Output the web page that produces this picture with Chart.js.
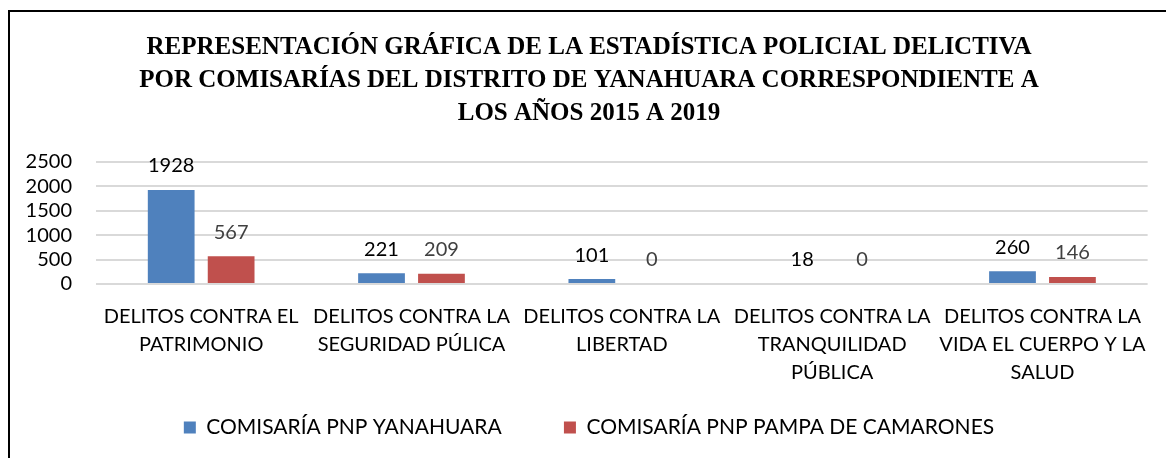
<!DOCTYPE html>
<html>
<head>
<meta charset="utf-8">
<script src="https://cdn.jsdelivr.net/npm/chart.js@4.4.1/dist/chart.umd.min.js"></script>
<style>
  html, body { margin: 0; padding: 0; background: #fff; }
  #frame { position: absolute; left: 8px; top: 10px; width: 1200px; height: 500px; border: 2px solid #000; box-sizing: border-box; }
  #wrap { position: absolute; left: 0; top: 0; width: 1166px; height: 458px; }
</style>
</head>
<body>
<div id="frame"></div>
<div id="wrap"><canvas id="chart"></canvas></div>
<script>
// categories (multi-line axis labels)
const categories = [
    ['DELITOS CONTRA EL', 'PATRIMONIO'],
    ['DELITOS CONTRA LA', 'SEGURIDAD PÚLICA'],
    ['DELITOS CONTRA LA', 'LIBERTAD'],
    ['DELITOS CONTRA LA', 'TRANQUILIDAD', 'PÚBLICA'],
    ['DELITOS CONTRA LA', 'VIDA EL CUERPO Y LA', 'SALUD']
]
const yanahuara = [1928, 221, 101, 18, 260]
const pampaCamarones = [567, 209, 0, 0, 146]
const seriesNames = ['COMISARÍA PNP YANAHUARA', 'COMISARÍA PNP PAMPA DE CAMARONES']
const yMax = 2500
const yStep = 500
const titleLines = [
    'REPRESENTACIÓN GRÁFICA DE LA ESTADÍSTICA POLICIAL DELICTIVA',
    'POR COMISARÍAS DEL DISTRITO DE YANAHUARA CORRESPONDIENTE A',
    'LOS AÑOS 2015 A 2019'
]

const SANS = 'Lato, "Liberation Sans", sans-serif'

// draws the value above every bar
const valueLabels = {
    id: 'valueLabels',
    afterDatasetsDraw(chart) {
        const ctx = chart.ctx
        ctx.save()
        ctx.font = '20px ' + SANS
        ctx.textAlign = 'center'
        ctx.textBaseline = 'middle'
        chart.data.datasets.forEach((ds, i) => {
            ctx.fillStyle = i === 0 ? '#000000' : '#404040'
            chart.getDatasetMeta(i).data.forEach((bar, j) => {
                ctx.fillText(String(ds.data[j]), bar.x, bar.y - 24)
            })
        })
        ctx.restore()
    }
}

new Chart(document.getElementById('chart'), {
    type: 'bar',
    data: {
        labels: categories,
        datasets: [{
            label: seriesNames[0],
            data: yanahuara,
            backgroundColor: '#4F81BD'
        }, {
            label: seriesNames[1],
            data: pampaCamarones,
            backgroundColor: '#C0504D'
        }]
    },
    options: {
        responsive: true,
        maintainAspectRatio: false,
        animation: false,
        layout: { padding: { left: 26, right: 14, top: 0, bottom: 10 } },
        datasets: { bar: { barPercentage: 0.78, categoryPercentage: 0.57 } },
        plugins: {
            tooltip: { enabled: false },
            title: {
                display: true,
                text: titleLines,
                color: '#000',
                font: { family: '"Liberation Serif", serif', size: 25, weight: 'bold', lineHeight: 33 / 25 },
                padding: { top: 31, bottom: 32 }
            },
            legend: {
                position: 'bottom',
                labels: {
                    color: '#000',
                    font: { family: SANS, size: 21 },
                    boxWidth: 12,
                    boxHeight: 12,
                    padding: 30,
                    // extra trailing space widens the gap between the two entries
                    generateLabels(chart) {
                        const items = Chart.defaults.plugins.legend.labels.generateLabels(chart)
                        items[0].text = items[0].text + '      '
                        return items
                    }
                }
            }
        },
        scales: {
            x: {
                grid: { display: false, drawTicks: false },
                border: { display: false },
                ticks: {
                    color: '#000',
                    font: { family: SANS, size: 20, lineHeight: 28 / 20 },
                    padding: 19,
                    autoSkip: false,
                    maxRotation: 0
                },
                afterFit(scale) { scale.height = 103 }
            },
            y: {
                min: 0,
                max: yMax,
                grid: { color: '#d9d9d9', lineWidth: 2, drawTicks: false },
                border: { display: false },
                ticks: {
                    stepSize: yStep,
                    autoSkip: false,
                    color: '#000',
                    font: { family: SANS, size: 20 },
                    padding: 24,
                    callback: v => String(v)
                },
                afterFit(scale) { scale.width = 70 }
            }
        }
    },
    plugins: [valueLabels]
})
</script>
</body>
</html>
